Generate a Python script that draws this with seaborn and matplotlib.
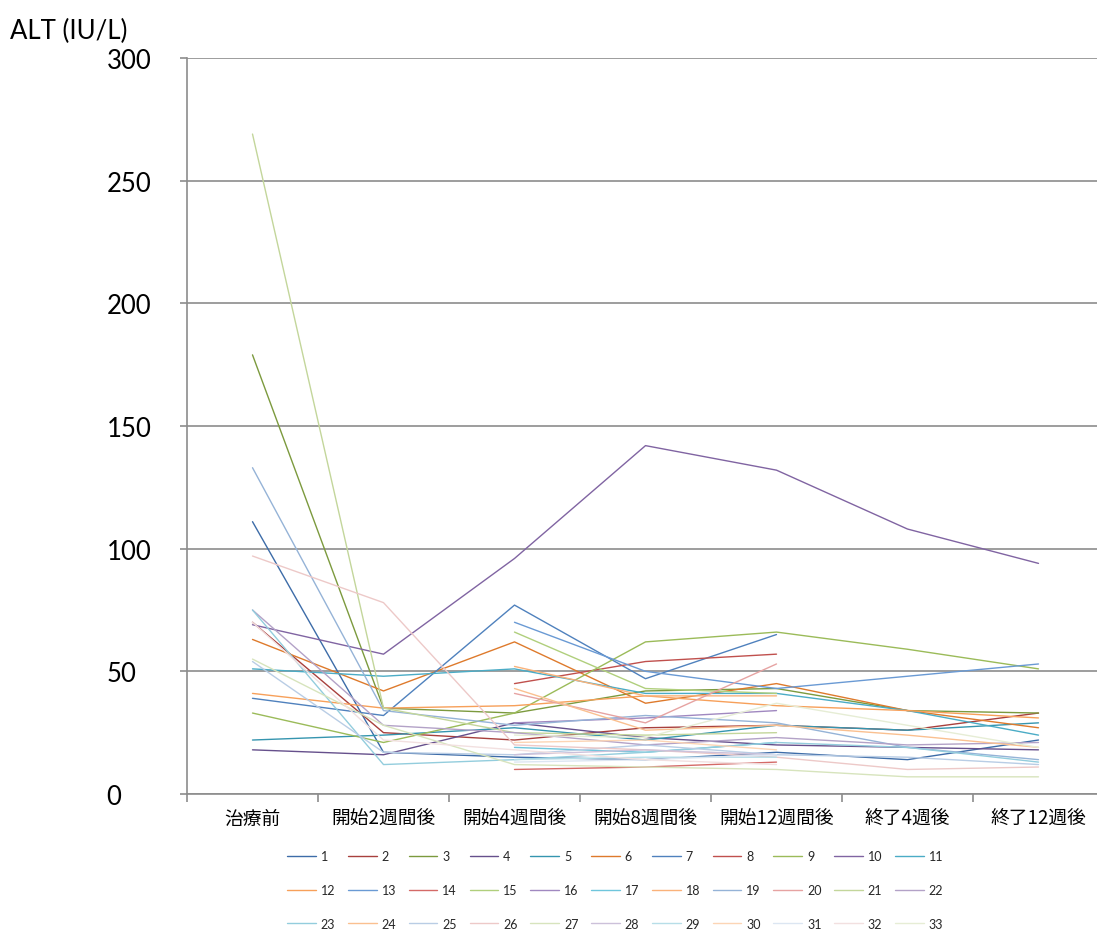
import numpy as np
import pandas as pd
import matplotlib
matplotlib.use("Agg")
import matplotlib.pyplot as plt
from matplotlib.ticker import FixedLocator
import seaborn as sns

nan = np.nan

# Time points
categories = ["治療前", "開始2週間後", "開始4週間後", "開始8週間後",
              "開始12週間後", "終了4週後", "終了12週後"]
patients = [str(i) for i in range(1, 34)]

# ALT (IU/L) for patients 1..33 at each time point
pre = [111, 70, 179, 18, 22, 63, 39, nan, 33, 69, 51, 41, nan, nan, nan, nan, nan,
       nan, 133, nan, 269, 75, 75, nan, 54, 97, 55, nan, nan, nan, nan, 70, nan]
w2 = [17, 25, 35, 16, 24, 42, 32, nan, 21, 57, 48, 35, nan, nan, nan, nan, nan,
      nan, 34, nan, 35, 28, 12, nan, 17, 78, 28, nan, nan, nan, nan, 22, nan]
w4 = [15, 22, 33, 29, 27, 62, 77, 45, 33, 96, 51, 36, 70, 10, 66, 29, 19,
      52, 28, 41, 25, 25, 14, 43, 16, 20, 12, 16, 14, 21, 13, 18, 24]
w8 = [14, 27, 42, 23, 22, 37, 47, 54, 62, 142, 41, 40, 50, 11, 43, 31, 17,
      40, 32, 29, 24, 20, 17, 26, 20, 18, 11, 18, 15, 22, 14, 14, 23]
w12 = [17, 28, 43, 20, 28, 45, 65, 57, 66, 132, 41, 36, 43, 13, 41, 34, 21,
       40, 29, 53, 25, 23, 21, 28, 16, 15, 10, 16, 15, 18, 16, 12, 37]
post4 = [14, 26, 34, 19, 26, 34, nan, nan, 59, 108, 34, 34, 48, nan, nan, nan, nan,
         nan, 19, nan, nan, 20, 19, 24, 15, 10, 7, nan, nan, nan, nan, nan, 28]
post12 = [22, 33, 33, 18, 29, 27, nan, nan, 51, 94, 24, 31, 53, nan, nan, nan, nan,
          nan, 14, nan, nan, 21, 13, 19, 12, 11, 7, nan, nan, nan, nan, nan, 19]

yticks = [0, 50, 100, 150, 200, 250, 300]

# Office-style series colours: six hues repeated in progressively lighter tints
colors = [
    "#3D6CA8", "#A8403D", "#7C9A3E", "#66508C", "#3595AF", "#DE7A2C",
    "#4F81BD", "#C0504D", "#9BBB59", "#8064A2", "#4BACC6", "#F7A05A",
    "#6A9AD4", "#D46A67", "#B0CF7C", "#A088C0", "#6FC6DC", "#FAB27A",
    "#95B3D7", "#E6A3A2", "#C3D69B", "#B3A2C7", "#93CDDD", "#FAC090",
    "#B9CDE5", "#EDC9C8", "#D7E4BD", "#CCC1DA", "#B7DEE8", "#FCD5B5",
    "#DCE6F2", "#F2E0E0", "#E6EDD5",
]

wide = pd.DataFrame(
    {c: v for c, v in zip(categories, [pre, w2, w4, w8, w12, post4, post12])},
    index=patients,
)
df = (wide.reset_index(names="patient")
      .melt(id_vars="patient", var_name="time", value_name="ALT"))
df["pos"] = df["time"].map({c: i for i, c in enumerate(categories)})
df = df.dropna(subset=["ALT"])

sns.set_theme(style="white")
plt.rcParams["font.family"] = ["Lato", "Noto Sans CJK JP", "DejaVu Sans"]

W, H = 1097, 937
fig = plt.figure(figsize=(W / 100, H / 100), dpi=100)
ax = fig.add_axes([187 / W, (H - 795) / H, 917 / W, (795 - 59) / H])

sns.lineplot(data=df, x="pos", y="ALT", hue="patient", hue_order=patients,
             palette=colors, estimator=None, sort=True, linewidth=1.0,
             ax=ax, legend=True)

ax.set_xlim(-0.5, len(categories) - 0.5)
ax.set_ylim(0, 300)
ax.set_xlabel("")
ax.set_ylabel("")

grid_c = "#8C8C8C"
ax.set_yticks(yticks)
ax.set_yticklabels([str(t) for t in yticks], fontsize=18.5, color="black",
                   ha="left")
ax.yaxis.grid(True, color=grid_c, linewidth=1.2)
ax.xaxis.grid(False)
ax.tick_params(axis="y", which="major", length=5, width=1.2, color=grid_c,
               left=True, pad=53)

ax.set_xticks(range(len(categories)))
ax.set_xticklabels(categories, fontsize=13.5, color="black",
                   family=["Noto Sans CJK JP", "DejaVu Sans"])
ax.tick_params(axis="x", which="major", length=0, pad=10)
ax.xaxis.set_minor_locator(FixedLocator(np.arange(-0.5, len(categories), 1.0)))
ax.tick_params(axis="x", which="minor", length=6, width=1.2, color=grid_c,
               bottom=True)

for side in ("top", "right"):
    ax.spines[side].set_visible(False)
for side in ("left", "bottom"):
    ax.spines[side].set_color(grid_c)
    ax.spines[side].set_linewidth(1.2)
ax.set_axisbelow(True)

fig.text(10 / W, 1 - 31 / H, "ALT (IU/L)", fontsize=18.5, ha="left",
         va="center", color="black")

# Legend laid out row by row: 11 entries per row, 3 rows
handles, labels = ax.get_legend_handles_labels()
ax.get_legend().remove()
ncol, nrow = 11, 3
order = [r * ncol + c for c in range(ncol) for r in range(nrow)]
fig.legend([handles[i] for i in order], [labels[i] for i in order],
           loc="center", bbox_to_anchor=(615 / W, 1 - 891 / H), ncol=ncol,
           frameon=False, fontsize=9, handlelength=2.3, handletextpad=0.4,
           columnspacing=1.0, labelspacing=1.73)

fig.savefig("out.png", dpi=100)
